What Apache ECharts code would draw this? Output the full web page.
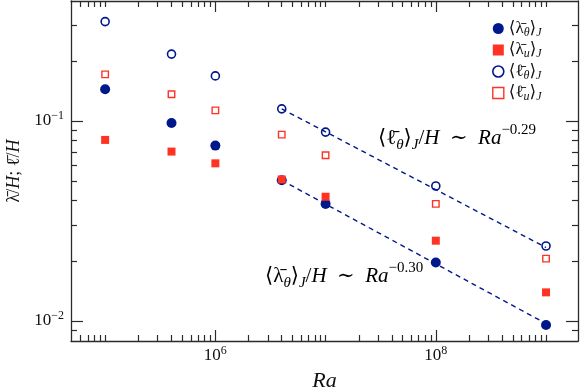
<!DOCTYPE html>
<html>
<head>
<meta charset="utf-8">
<title>Ra scaling</title>
<script src="https://cdn.jsdelivr.net/npm/echarts@6/dist/echarts.min.js"></script>
<style>
html, body { margin: 0; padding: 0; background: #fff; }
#main { width: 581px; height: 389px; }
</style>
</head>
<body>
<div id="main"></div>
<script>
// data
var ra = [1e5, 4e5, 1e6, 4e6, 1e7, 1e8, 1e9];
var lambdaTheta = [0.144, 0.0977, 0.0753, 0.0505, 0.0385, 0.0196, 0.00955];
var lambdaU = [0.0804, 0.0703, 0.0614, 0.0510, 0.0418, 0.0252, 0.0139];
var ellTheta = [0.314, 0.216, 0.168, 0.115, 0.088, 0.0473, 0.0237];
var ellU = [0.171, 0.136, 0.113, 0.0855, 0.0674, 0.0385, 0.0205];

// dashed power-law fits
var fitRa = [4e6, 1e9];
var fitEllTheta = [0.115, 0.0233];
var fitLambdaTheta = [0.0505, 0.0097];

// ticks
var xMajor = [1e6, 1e8];
var xMinor = [6e4, 7e4, 8e4, 9e4, 1e5, 2e5, 3e5, 4e5, 5e5, 6e5, 7e5, 8e5, 9e5,
  2e6, 3e6, 4e6, 5e6, 6e6, 7e6, 8e6, 9e6, 1e7, 2e7, 3e7, 4e7, 5e7, 6e7, 7e7, 8e7, 9e7,
  2e8, 3e8, 4e8, 5e8, 6e8, 7e8, 8e8, 9e8, 1e9];
var yMajor = [0.01, 0.1];
var yMinor = [0.009, 0.02, 0.03, 0.04, 0.05, 0.06, 0.07, 0.08, 0.09, 0.2, 0.3];

var navy = '#00188c';
var red = '#ff3324';
var frame = '#2b2b2b';
var serif = "'Liberation Serif', 'DejaVu Serif', serif";

// rich text styles for the little math snippets
function mathRich(size, lh, subSize, subLh, supSize) {
  return {
    n: { fontFamily: serif, fontSize: size, lineHeight: lh, color: '#111' },
    i: { fontFamily: serif, fontSize: size, lineHeight: lh, fontStyle: 'italic', color: '#111' },
    s: { fontFamily: serif, fontSize: subSize, lineHeight: subLh, fontStyle: 'italic', verticalAlign: 'bottom', color: '#111' },
    p: { fontFamily: serif, fontSize: supSize, lineHeight: supSize, verticalAlign: 'top', color: '#111' }
  };
}
var tickRich = mathRich(17, 22, 12, 12, 12);
var legendRich = mathRich(17, 20, 12, 13, 12);
var noteRich = mathRich(21, 30, 15, 20, 15);

function pow10(v) {
  var e = Math.round(Math.log(v) / Math.LN10);
  return '{n|10}{p|' + String(e).replace('-', '\u2212') + '}';
}

function xAx(pos, ticks, len, labels, name) {
  return {
    type: 'log', position: pos, gridIndex: 0,
    min: 4.9e4, max: 1.95e9,
    name: name || '', nameLocation: 'middle', nameGap: 29,
    nameTextStyle: { fontFamily: serif, fontSize: 22, fontStyle: 'italic', color: '#111' },
    axisLine: { show: len > 8, onZero: false, lineStyle: { color: frame, width: 1.3 } },
    axisTick: { show: true, inside: true, length: len, customValues: ticks, lineStyle: { color: frame, width: 1.2 } },
    axisLabel: labels ? { show: true, customValues: labels, margin: 4, formatter: pow10, rich: tickRich } : { show: false },
    splitLine: { show: false }, minorTick: { show: false }
  };
}

function yAx(pos, ticks, len, labels, name) {
  return {
    type: 'log', position: pos, gridIndex: 0,
    min: 0.00794, max: 0.398,
    name: name || '', nameLocation: 'middle', nameGap: 45, nameRotate: 90,
    nameTextStyle: { rich: {
      o: { fontFamily: serif, fontSize: 18, fontStyle: 'italic', color: '#111' },
      n: { fontFamily: serif, fontSize: 18, color: '#111' }
    } },
    axisLine: { show: len > 8, onZero: false, lineStyle: { color: frame, width: 1.3 } },
    axisTick: { show: true, inside: true, length: len, customValues: ticks, lineStyle: { color: frame, width: 1.2 } },
    axisLabel: labels ? { show: true, customValues: labels, margin: 7, formatter: pow10, rich: tickRich } : { show: false },
    splitLine: { show: false }, minorTick: { show: false }
  };
}

var legendText = {
  lt: '{n|\u27E8\u03BB\u0304}{s|\u03B8}{n|\u27E9}{s|J}',
  lu: '{n|\u27E8\u03BB\u0304}{s|u}{n|\u27E9}{s|J}',
  et: '{n|\u27E8\u2113\u0304}{s|\u03B8}{n|\u27E9}{s|J}',
  eu: '{n|\u27E8\u2113\u0304}{s|u}{n|\u27E9}{s|J}'
};

function pairs(xs, ys) {
  return xs.map(function (x, k) { return [x, ys[k]]; });
}

var myChart = echarts.init(document.getElementById('main'));
var option = {
  animation: false,
  grid: { left: 71, right: 3, top: 1, bottom: 48, outerBoundsMode: 'none', containLabel: false },
  xAxis: [
    xAx('bottom', xMajor, 11, xMajor, 'Ra'),
    xAx('bottom', xMinor, 6),
    xAx('top', xMajor, 11),
    xAx('top', xMinor, 6)
  ],
  yAxis: [
    yAx('left', yMajor, 12, yMajor, '{n|\u03BB\u0304/}{o|H}{n|; \u2113\u0304/}{o|H}'),
    yAx('left', yMinor, 6),
    yAx('right', yMajor, 12),
    yAx('right', yMinor, 6)
  ],
  legend: {
    orient: 'vertical', left: 492, top: 20, itemGap: 3, padding: 0,
    itemWidth: 11, itemHeight: 11,
    textStyle: { rich: legendRich },
    formatter: function (name) { return legendText[name]; },
    data: [
      { name: 'lt', icon: 'circle', itemStyle: { color: navy, opacity: 1 } },
      { name: 'lu', icon: 'rect', itemStyle: { color: red, opacity: 1 } },
      { name: 'et', icon: 'circle', itemStyle: { color: '#fff', borderColor: navy, borderWidth: 1.6 } },
      { name: 'eu', icon: 'rect', itemStyle: { color: '#fff', borderColor: red, borderWidth: 1.4 } }
    ]
  },
  graphic: [
    { type: 'text', left: 378, top: 123, style: {
      text: '{n|\u27E8\u2113\u0304}{s|\u03B8}{n|\u27E9}{s|J}{n|/}{i|H}{n|\u2002\u223C\u2002}{i|Ra}{p|\u22120.29}',
      rich: noteRich } },
    { type: 'text', left: 265, top: 261, style: {
      text: '{n|\u27E8\u03BB\u0304}{s|\u03B8}{n|\u27E9}{s|J}{n|/}{i|H}{n|\u2002\u223C\u2002}{i|Ra}{p|\u22120.30}',
      rich: noteRich } }
  ],
  series: [
    { name: 'fitE', type: 'line', data: pairs(fitRa, fitEllTheta), showSymbol: false, silent: true, z: 1,
      lineStyle: { color: navy, width: 1.4, type: [5, 4] } },
    { name: 'fitL', type: 'line', data: pairs(fitRa, fitLambdaTheta), showSymbol: false, silent: true, z: 1,
      lineStyle: { color: navy, width: 1.4, type: [5, 4] } },
    { name: 'lt', type: 'scatter', symbol: 'circle', symbolSize: 10, data: pairs(ra, lambdaTheta), z: 2,
      itemStyle: { color: navy, opacity: 1 } },
    { name: 'lu', type: 'scatter', symbol: 'rect', symbolSize: 8, data: pairs(ra, lambdaU), z: 3,
      itemStyle: { color: red, opacity: 1 } },
    { name: 'et', type: 'scatter', symbol: 'circle', symbolSize: 8, data: pairs(ra, ellTheta), z: 3,
      itemStyle: { color: 'transparent', borderColor: navy, borderWidth: 1.6, opacity: 1 } },
    { name: 'eu', type: 'scatter', symbol: 'rect', symbolSize: 6.5, data: pairs(ra, ellU), z: 3,
      itemStyle: { color: 'transparent', borderColor: red, borderWidth: 1.4, opacity: 1 } }
  ]
};
myChart.setOption(option);
</script>
</body>
</html>
